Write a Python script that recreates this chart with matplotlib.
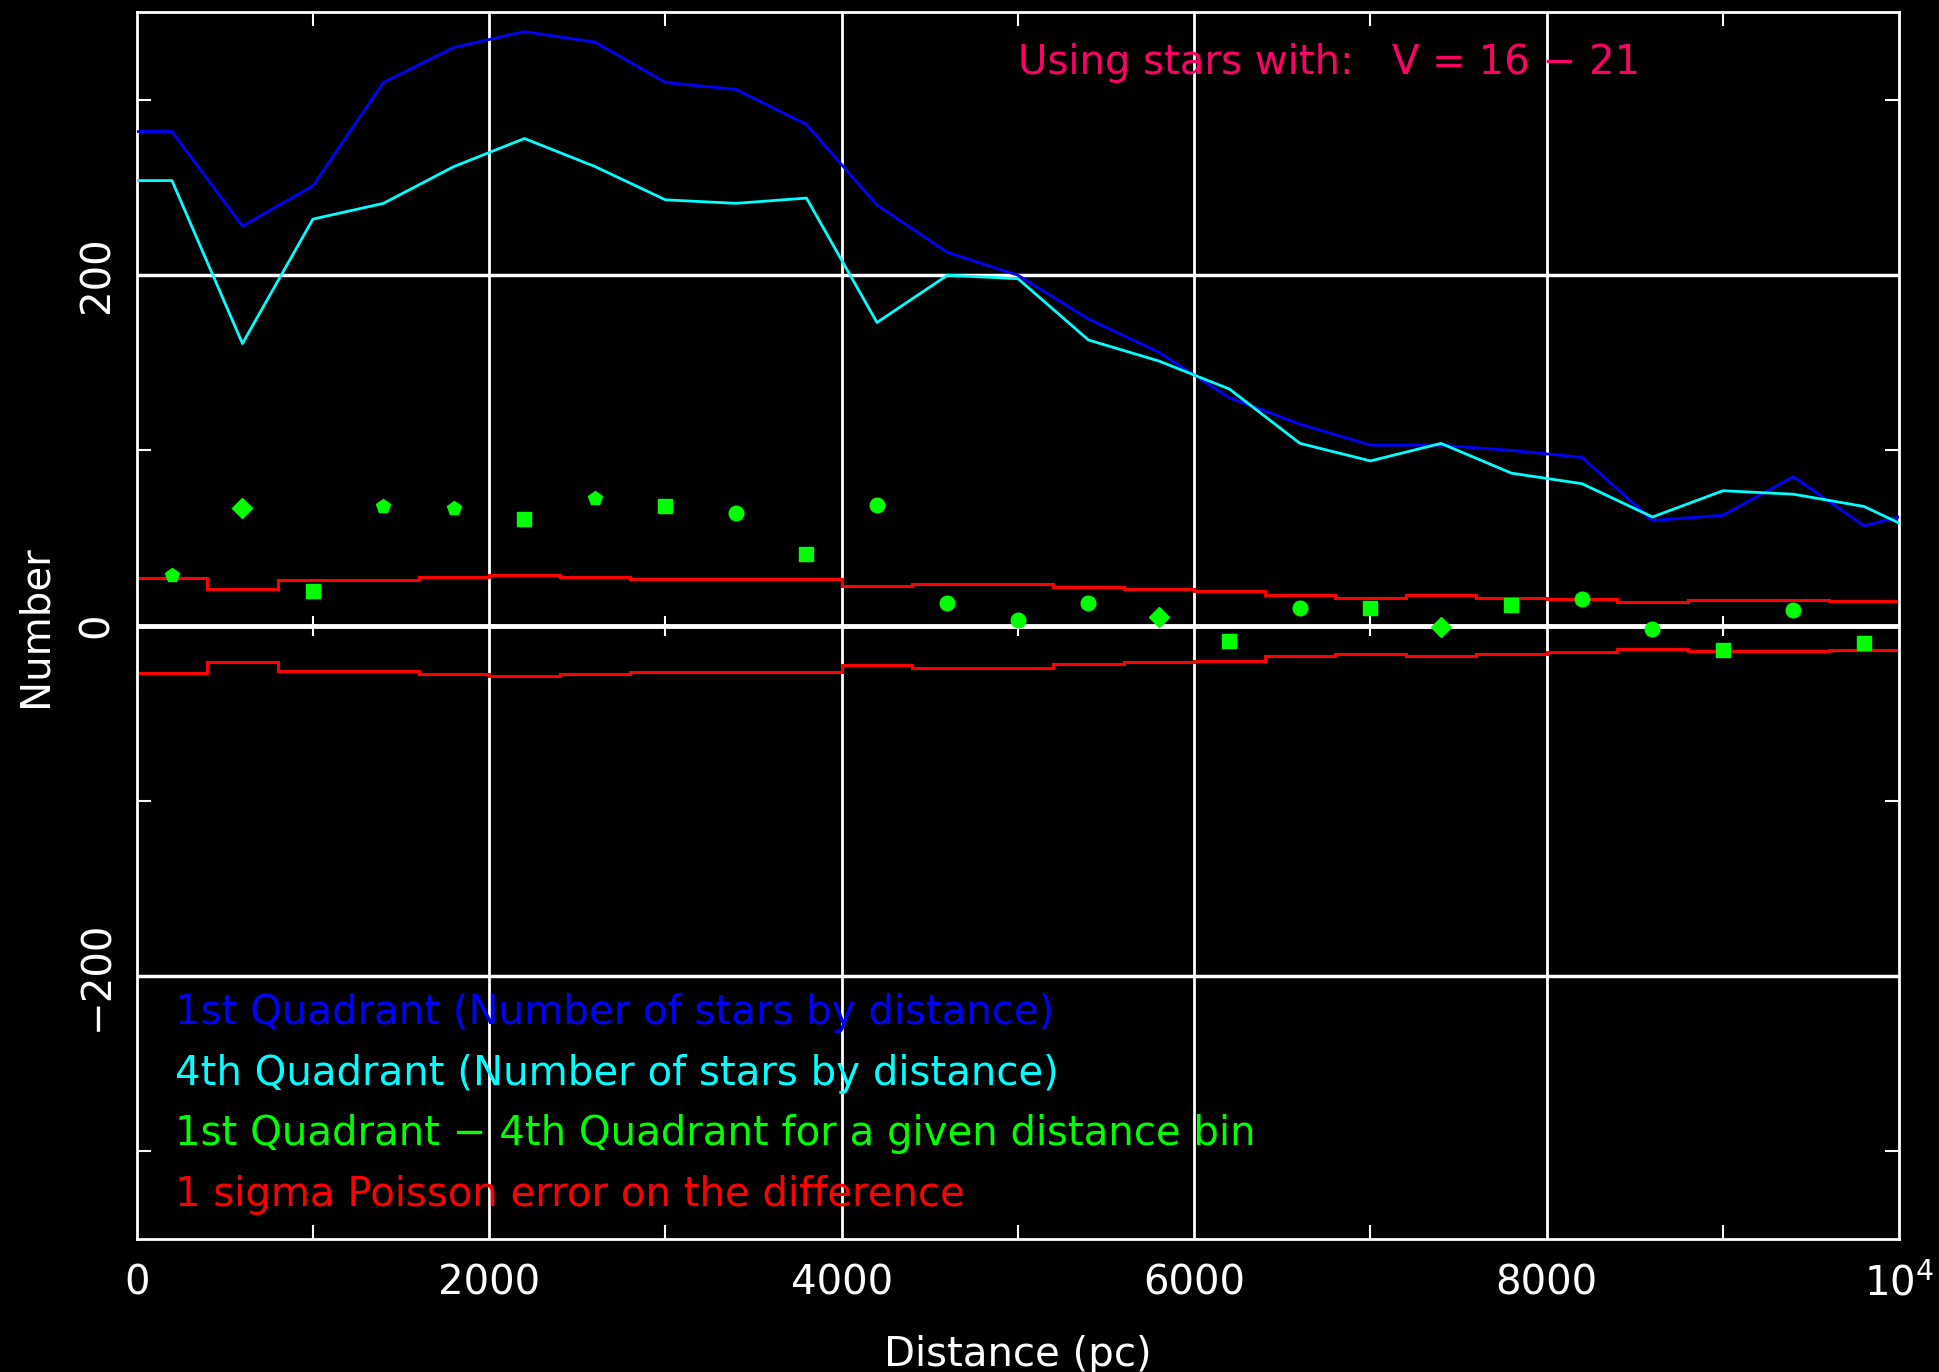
import numpy as np
import matplotlib
matplotlib.use("Agg")
from matplotlib import pyplot as plt

# distance bin centres (pc); first point repeats the first bin so the line starts at 0
dist = [0, 200, 600, 1000, 1400, 1800, 2200, 2600, 3000, 3400, 3800, 4200, 4600,
        5000, 5400, 5800, 6200, 6600, 7000, 7400, 7800, 8200, 8600, 9000, 9400,
        9800, 10200]
quad1 = [282, 282, 228, 251, 310, 330, 339, 333, 310, 306, 286, 240, 213,
         200, 175, 156, 130, 115, 103, 103, 100, 96, 60, 63, 85, 57, 67]
quad4 = [254, 254, 161, 232, 241, 262, 278, 262, 243, 241, 244, 173, 200,
         198, 163, 151, 135, 104, 94, 104, 87, 81, 62, 77, 75, 68, 49]

diff_dist = [200, 600, 1000, 1400, 1800, 2200, 2600, 3000, 3400, 3800, 4200, 4600,
             5000, 5400, 5800, 6200, 6600, 7000, 7400, 7800, 8200, 8600, 9000,
             9400, 9800]
diff = [29, 67, 20, 68, 67, 61, 73, 68, 64, 41, 69, 13, 3, 13, 5, -9, 10, 10,
        -1, 12, 15, -2, -14, 9, -10]
diff_marker = ['p', 'D', 's', 'p', 'p', 's', 'p', 's', 'o', 's', 'o', 'o', 'o',
               'o', 'D', 's', 'o', 's', 'D', 's', 'o', 'o', 's', 'o', 's']

bin_edges = [0, 400, 800, 1200, 1600, 2000, 2400, 2800, 3200, 3600, 4000, 4400,
             4800, 5200, 5600, 6000, 6400, 6800, 7200, 7600, 8000, 8400, 8800,
             9200, 9600, 10000]
sigma = [27, 21, 26, 26, 27.5, 29, 27.5, 26.5, 26.5, 26.5, 22.5, 24, 24, 22, 21,
         20, 17.5, 16, 17.5, 16, 15, 13.5, 14.5, 14.5, 14]

legend_lines = ['1st Quadrant (Number of stars by distance)',
                '4th Quadrant (Number of stars by distance)',
                '1st Quadrant \u2212 4th Quadrant for a given distance bin',
                '1 sigma Poisson error on the difference']
legend_colors = ['#0000ff', '#00ffff', '#00ff00', '#ff0000']

plt.rcParams['font.family'] = 'DejaVu Sans'
fs = 29

fig = plt.figure(figsize=(19.39, 13.72), dpi=100, facecolor='black')
ax = fig.add_axes([0.0705, 0.097, 0.909, 0.894], facecolor='black')

# grid
for gx in [2000, 4000, 6000, 8000]:
    ax.axvline(gx, color='white', lw=2, zorder=1)
for gy in [200, -200]:
    ax.axhline(gy, color='white', lw=2.5, zorder=1)
ax.axhline(0, color='white', lw=3.5, zorder=1)
# small ticks across the zero line
ax.plot([1000, 3000, 5000, 7000, 9000], [0] * 5, ls='none', marker='|',
        ms=14, mew=1.5, color='white', zorder=1)

ax.plot(dist, quad1, color='#0000ff', lw=2, zorder=3)
ax.plot(dist, quad4, color='#00ffff', lw=2, zorder=3)

ax.stairs(sigma, bin_edges, baseline=None, color='#ff0000', lw=2.2, zorder=2)
ax.stairs(-np.array(sigma), bin_edges, baseline=None, color='#ff0000', lw=2.2, zorder=2)

for x, y, m in zip(diff_dist, diff, diff_marker):
    ax.plot(x, y, ls='none', marker=m, ms=10.5, color='#00ff00', mec='#00ff00', zorder=4)

ax.set_xlim(0, 10000)
ax.set_ylim(-350, 350)

ax.set_xticks([0, 2000, 4000, 6000, 8000, 10000])
ax.set_xticklabels(['0', '2000', '4000', '6000', '8000', '$10^4$'])
ax.set_xticks([1000, 3000, 5000, 7000, 9000], minor=True)
ax.set_yticks([-200, 0, 200])
ax.set_yticklabels(['\u2212200', '0', '200'], rotation=90, va='center')
ax.set_yticks([-300, -100, 100, 300], minor=True)

ax.tick_params(which='both', direction='in', colors='white', top=True, right=True,
               labelsize=fs)
ax.tick_params(which='major', length=0, pad=14)
ax.tick_params(which='minor', length=10, width=1.5)
ax.tick_params(axis='x', which='major', pad=18)
for s in ax.spines.values():
    s.set_color('white')
    s.set_linewidth(2)

ax.set_xlabel('Distance (pc)', color='white', fontsize=fs, labelpad=22)
ax.set_ylabel('Number', color='white', fontsize=fs, labelpad=16)

ax.text(5000, 321, 'Using stars with:   V = 16 \u2212 21', color='#ff0066',
        fontsize=fs, va='center', ha='left')

for i, (txt, c) in enumerate(zip(legend_lines, legend_colors)):
    ax.text(220, -221 - 34.7 * i, txt, color=c, fontsize=fs, va='center', ha='left',
            zorder=5)

fig.savefig('out.png', dpi=100, facecolor='black')
